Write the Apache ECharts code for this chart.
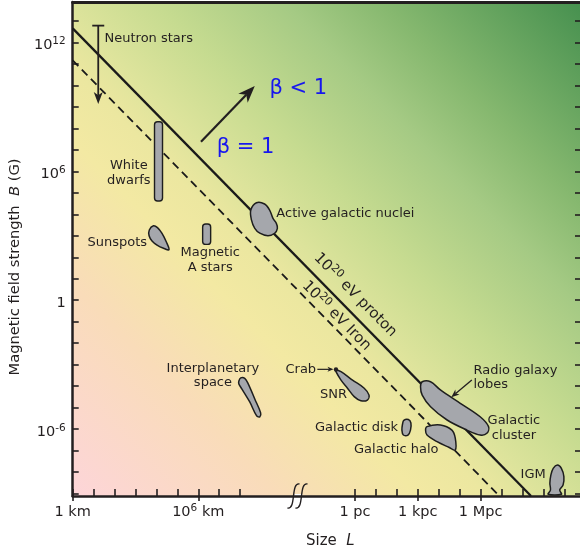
<!DOCTYPE html>
<html>
<head>
<meta charset="utf-8">
<title>Hillas plot</title>
<script src="https://cdn.jsdelivr.net/npm/echarts@6.0.0/dist/echarts.min.js"></script>
<style>
  html, body { margin: 0; padding: 0; background: #ffffff; }
  #chart { width: 580px; height: 555px; }
</style>
</head>
<body>
<div id="chart"></div>
<script>
// Both axes are in log10 units: size L in km, field strength B in gauss.
const SIZE_EXTENT = [0, 24.24];
const FIELD_EXTENT = [-9.12, 13.89];

// Size axis: decade ticks in km below the break, decade ticks in parsecs above it.
const SIZE_TICKS = [0, 1, 2, 3, 4, 5, 6, 7, 8,
  13.49, 14.49, 15.49, 16.49, 17.49, 18.49, 19.49, 20.49, 21.49, 22.49, 23.49];
const SIZE_LABEL_VALUES = [0, 6, 13.49, 16.49, 19.49];
const SIZE_LABEL_TEXTS = ['{b|1 km}', '{b|10}{s|6}{b| km}', '{b|1 pc}', '{b|1 kpc}', '{b|1 Mpc}'];
const SIZE_BREAK = 10.74;

const FIELD_TICKS = [-9, -8, -7, -6, -5, -4, -3, -2, -1, 0, 1, 2, 3, 4, 5, 6, 7, 8, 9, 10, 11, 12, 13];
const FIELD_LABEL_VALUES = [12, 6, 0, -6];
const FIELD_LABEL_TEXTS = ['{b|10}{s|12}', '{b|10}{s|6}', '{b|1}', '{b|10}{s|-6}'];

// Confinement limits B·L = const for 10^20 eV protons and iron nuclei
const PROTON_LINE = [[0, 12.66], [21.9, -9.12]];
const IRON_LINE = [[0, 11.17], [20.39, -9.12]];

// Sources spanning a range of field strength: [log L, log B low, log B high]
const NEUTRON_STARS = [1.22, 9.14, 12.79];
const WHITE_DWARFS = [4.10, 4.62, 8.31];
const MAGNETIC_A_STARS = [6.40, 2.60, 3.55];
const CRAB = [12.58, -3.23];

// Sources drawn as regions: outline vertices [log L, log B]
const SUNSPOTS = [[3.86, 3.47], [4.05, 3.38], [4.26, 3.12], [4.47, 2.72], [4.60, 2.35],
  [4.34, 2.42], [4.03, 2.57], [3.79, 2.76], [3.65, 3.00], [3.66, 3.27]];
const ACTIVE_GALACTIC_NUCLEI = [[8.78, 4.54], [8.51, 4.20], [8.54, 3.74], [8.70, 3.35], [8.94, 3.12],
  [9.33, 3.00], [9.65, 3.12], [9.78, 3.35], [9.73, 3.58], [9.57, 3.81], [9.41, 4.20], [9.17, 4.48]];
const INTERPLANETARY = [[7.94, -3.76], [8.03, -3.62], [8.22, -3.64], [8.37, -3.86], [8.70, -4.60],
  [8.98, -5.25], [8.94, -5.43], [8.79, -5.39], [8.46, -4.74], [8.08, -4.13], [7.94, -3.90]];
const SNR = [[12.58, -3.25], [12.82, -3.33], [13.37, -3.72], [13.93, -4.10], [14.16, -4.42],
  [14.08, -4.65], [13.77, -4.68], [13.45, -4.49], [13.13, -4.10], [12.82, -3.72], [12.58, -3.33]];
const GALACTIC_DISK = [[15.82, -5.60], [16.04, -5.56], [16.16, -5.72], [16.14, -6.05],
  [16.02, -6.28], [15.80, -6.28], [15.73, -6.05], [15.76, -5.77]];
const GALACTIC_HALO = [[16.93, -5.89], [17.57, -5.81], [18.12, -6.05], [18.28, -6.43], [18.28, -6.98],
  [17.97, -6.85], [17.41, -6.59], [16.93, -6.28], [16.86, -6.05]];
const RADIO_LOBES = [[16.70, -3.80], [17.10, -3.80], [17.57, -4.18], [18.52, -4.80], [19.47, -5.43],
  [19.87, -5.89], [19.79, -6.20], [19.47, -6.28], [18.84, -6.05], [17.89, -5.58], [17.10, -4.96],
  [16.70, -4.42], [16.62, -4.03]];
const IGM = [[22.96, -7.83], [23.16, -7.68], [23.35, -7.83], [23.47, -8.22], [23.43, -8.61],
  [23.27, -8.84], [23.35, -9.04], [22.72, -9.04], [22.83, -8.84], [22.80, -8.53], [22.85, -8.14]];

const REGIONS = [SUNSPOTS, ACTIVE_GALACTIC_NUCLEI, INTERPLANETARY, SNR, GALACTIC_DISK,
  GALACTIC_HALO, RADIO_LOBES, IGM];
const BARS = [WHITE_DWARFS, MAGNETIC_A_STARS];

// Pointers: [from, to] in log L, log B
const POINTERS = [
  { from: [6.13, 7.38], to: [8.70, 9.98], head: [17, 13], width: 2.2 },
  { from: [11.69, -3.22], to: [12.46, -3.22], head: [6, 5], width: 1.2 },
  { from: [19.07, -3.72], to: [18.09, -4.52], head: [8, 6.5], width: 1.3 }
];

// Annotation texts and their anchors
const NOTES = [
  { text: 'Neutron stars', at: [1.52, 12.17], align: 'left' },
  { text: 'White\ndwarfs', at: [2.68, 5.92], align: 'center' },
  { text: 'Sunspots', at: [3.55, 2.70], align: 'right' },
  { text: 'Magnetic\nA stars', at: [6.57, 1.87], align: 'center' },
  { text: 'Active galactic nuclei', at: [9.73, 4.05], align: 'left' },
  { text: 'Interplanetary\nspace', at: [6.70, -3.52], align: 'center' },
  { text: 'Crab', at: [11.63, -3.22], align: 'right' },
  { text: 'SNR', at: [12.46, -4.38], align: 'center' },
  { text: 'Galactic disk', at: [15.54, -5.94], align: 'right' },
  { text: 'Galactic halo', at: [15.46, -6.98], align: 'center' },
  { text: 'Radio galaxy\nlobes', at: [19.15, -3.61], align: 'left' },
  { text: 'Galactic\ncluster', at: [21.08, -5.97], align: 'center' },
  { text: 'IGM', at: [22.0, -8.14], align: 'center' },
  { text: '{b|10}{s|20}{b| eV proton}', at: [13.5, 0.24], align: 'center', rotate: -45.4, size: 15 },
  { text: '{b|10}{s|20}{b| eV Iron}', at: [12.6, -0.73], align: 'center', rotate: -45.4, size: 15 },
  { text: 'β = 1', at: [8.26, 7.09], align: 'center', size: 21, color: '#1717ee' },
  { text: 'β < 1', at: [10.78, 9.87], align: 'center', size: 21, color: '#1717ee' }
];

const FONT = 'DejaVu Sans';
const INK = '#231f20';
const REGION_FILL = '#a5a7ac';

function labelFor(values, texts) {
  return function (v) {
    for (let i = 0; i < values.length; i++) {
      if (Math.abs(values[i] - v) < 1e-6) return texts[i];
    }
    return '';
  };
}

const tickRich = {
  b: { fontSize: 14.5, fontFamily: FONT, color: INK, lineHeight: 19 },
  s: { fontSize: 10.5, fontFamily: FONT, color: INK, lineHeight: 11, verticalAlign: 'top' }
};

function textRich(size, color) {
  return {
    b: { fontSize: size, fontFamily: FONT, fill: color, lineHeight: size + 4 },
    s: { fontSize: Math.round(size * 0.7), fontFamily: FONT, fill: color, lineHeight: Math.round(size * 0.7), verticalAlign: 'top' }
  };
}

function pointerShapes(p0, p1, headLen, headWidth, lineWidth) {
  const dx = p1[0] - p0[0], dy = p1[1] - p0[1];
  const len = Math.hypot(dx, dy);
  const ux = dx / len, uy = dy / len, nx = -uy, ny = ux;
  const bx = p1[0] - ux * headLen, by = p1[1] - uy * headLen;
  const notch = [p1[0] - ux * headLen * 0.72, p1[1] - uy * headLen * 0.72];
  return [
    { type: 'line', shape: { x1: p0[0], y1: p0[1], x2: notch[0], y2: notch[1] },
      style: { stroke: INK, lineWidth: lineWidth } },
    { type: 'polygon', shape: { points: [p1, [bx + nx * headWidth / 2, by + ny * headWidth / 2], notch,
      [bx - nx * headWidth / 2, by - ny * headWidth / 2]] }, style: { fill: INK } }
  ];
}

const chart = echarts.init(document.getElementById('chart'), null, { renderer: 'canvas' });

const baseX = {
  type: 'value', min: SIZE_EXTENT[0], max: SIZE_EXTENT[1],
  splitLine: { show: false }, axisLabel: { show: false }, axisTick: { show: false },
  axisLine: { show: false, onZero: false }
};
const baseY = {
  type: 'value', min: FIELD_EXTENT[0], max: FIELD_EXTENT[1],
  splitLine: { show: false }, axisLabel: { show: false }, axisTick: { show: false },
  axisLine: { show: false, onZero: false }
};

const option = {
  animation: false,
  grid: {
    left: 72, right: -2, top: 2, bottom: 59, show: true, borderWidth: 0,
    backgroundColor: new echarts.graphic.LinearGradient(0, 1, 1, 0, [
      { offset: 0, color: '#fdd5d9' },
      { offset: 0.21, color: '#f9dcb9' },
      { offset: 0.35, color: '#f3e9a3' },
      { offset: 0.42, color: '#ece7a0' },
      { offset: 0.48, color: '#dce39b' },
      { offset: 0.57, color: '#c6db90' },
      { offset: 0.70, color: '#a5ca84' },
      { offset: 0.80, color: '#86b86f' },
      { offset: 1, color: '#46904f' }
    ])
  },
  xAxis: [
    Object.assign({}, baseX, {
      position: 'bottom',
      axisLine: { show: true, onZero: false, lineStyle: { color: INK, width: 2.5 } },
      axisTick: { show: true, inside: true, length: 7, customValues: SIZE_TICKS,
        lineStyle: { color: INK, width: 1.6 } },
      axisLabel: { show: true, margin: 7, customValues: SIZE_LABEL_VALUES,
        formatter: labelFor(SIZE_LABEL_VALUES, SIZE_LABEL_TEXTS), rich: tickRich },
      name: 'Size  {i|L}', nameLocation: 'middle', nameGap: 38,
      nameTextStyle: { fontSize: 15, fontFamily: FONT, color: INK, padding: [0, 0, 0, 8],
        rich: { i: { fontSize: 15, fontFamily: FONT, color: INK, fontStyle: 'italic' } } }
    }),
    Object.assign({}, baseX, {
      position: 'top',
      axisLine: { show: true, onZero: false, lineStyle: { color: INK, width: 3 } }
    }),
    Object.assign({}, baseX, {
      position: 'bottom',
      axisTick: { show: true, inside: false, length: 5, customValues: SIZE_LABEL_VALUES,
        lineStyle: { color: INK, width: 1.6 } }
    })
  ],
  yAxis: [
    Object.assign({}, baseY, {
      position: 'left',
      axisLine: { show: true, onZero: false, lineStyle: { color: INK, width: 2.5 } },
      axisTick: { show: true, inside: true, length: 6, customValues: FIELD_TICKS,
        lineStyle: { color: INK, width: 1.6 } },
      axisLabel: { show: true, margin: 7, customValues: FIELD_LABEL_VALUES, padding: [6, 0, 0, 0],
        formatter: labelFor(FIELD_LABEL_VALUES, FIELD_LABEL_TEXTS), rich: tickRich },
      name: 'Magnetic field strength  {i|B} (G)', nameLocation: 'middle', nameGap: 34,
      nameTextStyle: { fontSize: 14.7, fontFamily: FONT, color: INK, padding: [0, 36, 0, 0],
        rich: { i: { fontSize: 14.7, fontFamily: FONT, color: INK, fontStyle: 'italic' } } }
    }),
    Object.assign({}, baseY, {
      position: 'right',
      axisTick: { show: true, inside: true, length: 5, customValues: FIELD_TICKS,
        lineStyle: { color: INK, width: 1.6 } }
    })
  ],
  series: [
    {
      name: '10^20 eV proton', type: 'line', data: PROTON_LINE, symbol: 'none', z: 2, silent: true,
      lineStyle: { color: '#1a1a1a', width: 2.3 }
    },
    {
      name: '10^20 eV iron', type: 'line', data: IRON_LINE, symbol: 'none', z: 2, silent: true,
      lineStyle: { color: '#1a1a1a', width: 1.8, type: [8, 5] }
    },
    {
      name: 'regions', type: 'custom', z: 3, clip: true, silent: true,
      data: REGIONS.map(r => r[0]),
      renderItem: function (params, api) {
        const pts = REGIONS[params.dataIndex].map(p => api.coord(p));
        return { type: 'polygon', shape: { points: pts, smooth: 0.35 },
          style: { fill: REGION_FILL, stroke: '#1e1e1e', lineWidth: 1.5 } };
      }
    },
    {
      name: 'ranges', type: 'custom', z: 3, silent: true,
      data: BARS.map(b => [b[0], b[2], b[1]]),
      renderItem: function (params, api) {
        const top = api.coord([api.value(0), api.value(1)]);
        const bottom = api.coord([api.value(0), api.value(2)]);
        const w = 8;
        return { type: 'rect', shape: { x: top[0] - w / 2, y: top[1], width: w, height: bottom[1] - top[1], r: 3 },
          style: { fill: REGION_FILL, stroke: '#1e1e1e', lineWidth: 1.4 } };
      }
    },
    {
      name: 'neutron stars', type: 'custom', z: 4, silent: true,
      data: [[NEUTRON_STARS[0], NEUTRON_STARS[2], NEUTRON_STARS[1]]],
      renderItem: function (params, api) {
        const top = api.coord([api.value(0), api.value(1)]);
        const bottom = api.coord([api.value(0), api.value(2)]);
        const children = pointerShapes(top, bottom, 12, 9, 1.8);
        children.push({ type: 'line', shape: { x1: top[0] - 6, y1: top[1], x2: top[0] + 6, y2: top[1] },
          style: { stroke: INK, lineWidth: 1.8 } });
        return { type: 'group', children: children };
      }
    },
    {
      name: 'pointers', type: 'custom', z: 4, silent: true,
      data: POINTERS.map(p => p.to),
      renderItem: function (params, api) {
        const p = POINTERS[params.dataIndex];
        return { type: 'group', children: pointerShapes(api.coord(p.from), api.coord(p.to), p.head[0], p.head[1], p.width) };
      }
    },
    {
      name: 'Crab', type: 'custom', z: 5, silent: true,
      data: [CRAB],
      renderItem: function (params, api) {
        const c = api.coord([api.value(0), api.value(1)]);
        return { type: 'circle', shape: { cx: c[0], cy: c[1], r: 2.2 }, style: { fill: INK } };
      }
    },
    {
      name: 'notes', type: 'custom', z: 6, silent: true,
      data: NOTES.map(n => n.at),
      renderItem: function (params, api) {
        const n = NOTES[params.dataIndex];
        const c = api.coord([api.value(0), api.value(1)]);
        const size = n.size || 13;
        const color = n.color || INK;
        return {
          type: 'text', x: c[0], y: c[1], rotation: (n.rotate || 0) * Math.PI / 180,
          style: {
            text: n.text, x: 0, y: 0, align: n.align, verticalAlign: 'middle',
            fontSize: size, fontFamily: FONT, fill: color, lineHeight: size + 1.5,
            rich: textRich(size, color)
          }
        };
      }
    }
  ]
};

chart.setOption(option);

// Axis break marker on the size axis
const brk = chart.convertToPixel({ gridIndex: 0 }, [SIZE_BREAK, FIELD_EXTENT[0]]);
function squiggle(x, y) {
  return { type: 'bezierCurve', silent: true,
    shape: { x1: x - 6, y1: y + 12, cpx1: x + 3, cpy1: y + 14, cpx2: x - 3, cpy2: y - 14, x2: x + 6, y2: y - 12 },
    style: { stroke: INK, lineWidth: 1.4, fill: null } };
}
chart.setOption({
  graphic: [
    { type: 'rect', silent: true, shape: { x: brk[0] - 3, y: brk[1] - 2, width: 8, height: 4 }, style: { fill: '#ffffff' } },
    squiggle(brk[0] - 4, brk[1]),
    squiggle(brk[0] + 4, brk[1])
  ]
});
</script>
</body>
</html>
